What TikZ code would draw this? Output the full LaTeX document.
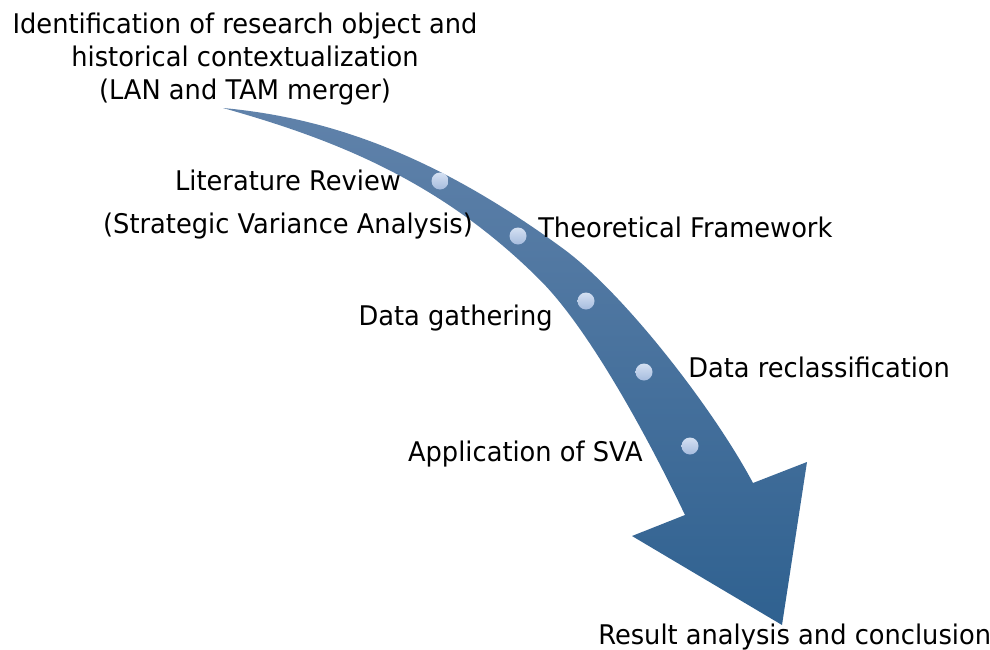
\documentclass[tikz,border=0pt]{standalone}
\usepackage{fontspec}
\setmainfont{DejaVu Sans}[FakeStretch=0.95]
\begin{document}
\begin{tikzpicture}[x=0.75pt,y=-0.75pt,
  lbl/.style={inner sep=0pt,font=\fontsize{20.3}{24}\selectfont,text=black},
  dotmark/.style={circle,inner sep=0pt,minimum size=12.75pt,top color=dottop,bottom color=dotbot,draw=none}]
\definecolor{arrowtop}{RGB}{96,130,170}
\definecolor{arrowbot}{RGB}{47,97,144}
\definecolor{dottop}{RGB}{212,224,242}
\definecolor{dotbot}{RGB}{166,188,222}
\path[use as bounding box] (0,0) rectangle (990,650);
% arrow
\coordinate (tail) at (223,108);
\coordinate (umid) at (565,250);
\coordinate (ubase) at (753,483);
\coordinate (rbarb) at (807,462);
\coordinate (tip) at (782,625);
\coordinate (lbarb) at (632,536);
\coordinate (lbase) at (685,515);
\coordinate (lmid) at (540,280);
\path[top color=arrowtop,bottom color=arrowbot]
  (tail) .. controls (333,118) and (440,158) .. (umid)
  .. controls (625,295) and (713,408) .. (ubase)
  -- (rbarb) -- (tip) -- (lbarb) -- (lbase)
  .. controls (650,441.5) and (590,330) .. (lmid)
  .. controls (440,180) and (333,139) .. (tail) -- cycle;
% dots
\node[dotmark] (d1) at (440,181) {};
\node[dotmark] (d2) at (518,236) {};
\node[dotmark] (d3) at (586,301) {};
\node[dotmark] (d4) at (644,372) {};
\node[dotmark] (d5) at (690,446) {};
% labels
\node[lbl,anchor=base] (t1) at (245,33.5) {Identification of research object and};
\node[lbl,anchor=base] (t2) at (245,66.5) {historical contextualization};
\node[lbl,anchor=base] (t3) at (245,99) {(LAN and TAM merger)};
\node[lbl,anchor=base] (l1) at (288,190) {Literature Review};
\node[lbl,anchor=base] (l2) at (288,233) {(Strategic Variance Analysis)};
\node[lbl,anchor=base west] (tf) at (538,237) {Theoretical Framework};
\node[lbl,anchor=base east] (dg) at (553,325) {Data gathering};
\node[lbl,anchor=base west] (dr) at (688,377) {Data reclassification};
\node[lbl,anchor=base east] (as) at (643,461) {Application of SVA};
\node[lbl,anchor=base west] (ra) at (598,644) {Result analysis and conclusion};
\end{tikzpicture}
\end{document}
